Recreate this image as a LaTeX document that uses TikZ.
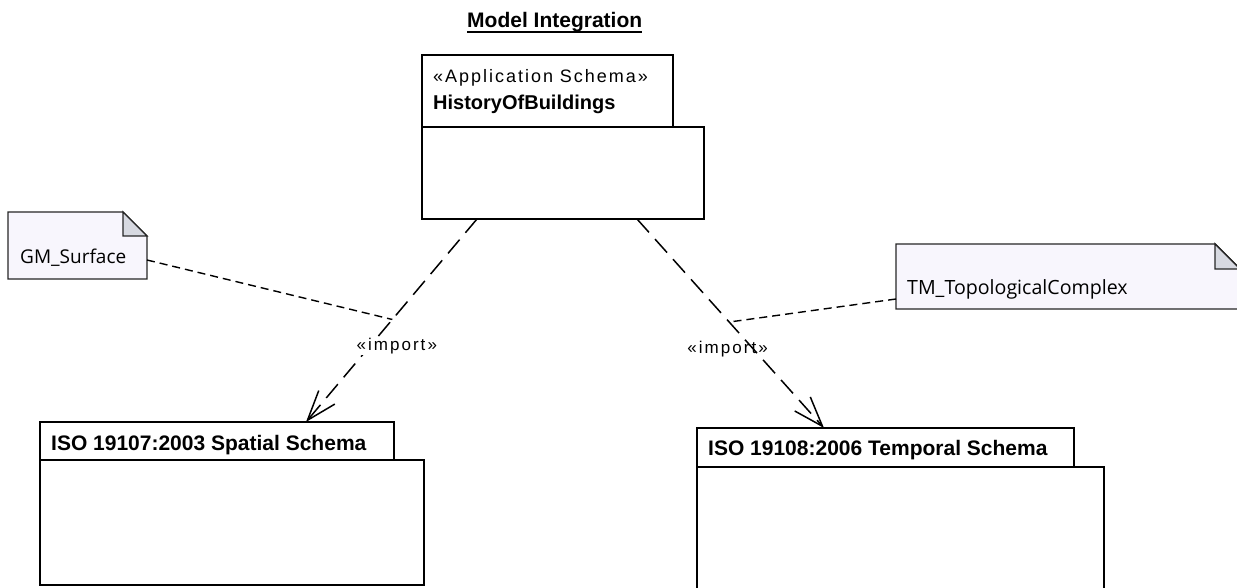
\documentclass[tikz,border=0pt]{standalone}
\usepackage{fontspec}
\setmainfont{Liberation Sans}
\newfontfamily\notefont{Open Sans}
\newfontfamily\stereofont[LetterSpace=12]{Liberation Sans}
\newfontfamily\stereofontwide[LetterSpace=11]{Liberation Sans}
\usetikzlibrary{arrows.meta,calc}
\definecolor{notefill}{HTML}{F8F6FD}
\definecolor{foldfill}{HTML}{D7D9E1}
\begin{document}
\begin{tikzpicture}[x=1pt,y=-1pt,
  pkgbox/.style={draw=black, line width=1.7pt, fill=white, inner sep=0pt, outer sep=0pt, anchor=north west},
  pkgname/.style={font=\bfseries\fontsize{21}{24}\selectfont, inner sep=0pt, anchor=base west},
  stereo/.style={font=\stereofontwide\fontsize{18}{20}\selectfont, inner sep=0pt, anchor=base west},
  notenode/.style={draw=none, inner sep=0pt, outer sep=0pt, anchor=north west},
  noteshape/.style={draw=black!85, line width=1.4pt, fill=notefill},
  foldshape/.style={draw=black!85, line width=1.4pt, fill=foldfill},
  notetext/.style={font=\notefont\fontsize{19}{22}\selectfont, inner sep=0pt, anchor=base west},
  importline/.style={draw=black, line width=1.5pt, dash pattern=on 18pt off 9pt,
     -{Straight Barb[length=30pt,width=21pt]}},
  noteline/.style={draw=black, line width=1.4pt, dash pattern=on 8pt off 5pt},
  lbl/.style={font=\stereofont\fontsize{17}{20}\selectfont, inner sep=0pt, anchor=base west}
]
\useasboundingbox (0,0) rectangle (1237,588);

% title
\node[font=\bfseries\fontsize{21}{24}\selectfont, inner sep=0pt, anchor=base west] (title) at (467,28) {Model Integration};
\draw[line width=1.5pt] ($(title.base west)+(0,4)$) -- ($(title.base east)+(0,4)$);

% HistoryOfBuildings package
\node[pkgbox, minimum width=251, minimum height=72] (hobTab) at (422,55) {};
\node[pkgbox, minimum width=282, minimum height=92] (hobBody) at (422,127) {};
\node[stereo] (hobSt) at (433,83) {«Application Schema»};
\node[pkgname, font=\bfseries\fontsize{20}{24}\selectfont] (hobName) at (433,110) {HistoryOfBuildings};

% Spatial schema package
\node[pkgbox, minimum width=354, minimum height=38] (spTab) at (40,422) {};
\node[pkgbox, minimum width=384, minimum height=125] (spBody) at (40,460) {};
\node[pkgname] (spName) at (51,450) {ISO 19107:2003 Spatial Schema};

% Temporal schema package
\node[pkgbox, minimum width=377, minimum height=39] (tmTab) at (697,428) {};
\node[pkgbox, minimum width=407, minimum height=135] (tmBody) at (697,467) {};
\node[pkgname] (tmName) at (708,455) {ISO 19108:2006 Temporal Schema};

% GM_Surface note
\node[notenode, minimum width=139, minimum height=67] (gm) at (8,212) {};
\draw[noteshape] (gm.north west) -- ($(gm.north east)+(-24,0)$) -- ($(gm.north east)+(0,24)$)
  -- (gm.south east) -- (gm.south west) -- cycle;
\draw[foldshape] ($(gm.north east)+(-24,0)$) -- ($(gm.north east)+(-24,24)$) -- ($(gm.north east)+(0,24)$) -- cycle;
\node[notetext] (gmText) at (20,263) {GM\_Surface};

% TM_TopologicalComplex note
\node[notenode, minimum width=344, minimum height=65] (tmc) at (896,244) {};
\draw[noteshape] (tmc.north west) -- ($(tmc.north east)+(-25,0)$) -- ($(tmc.north east)+(0,25)$)
  -- (tmc.south east) -- (tmc.south west) -- cycle;
\draw[foldshape] ($(tmc.north east)+(-25,0)$) -- ($(tmc.north east)+(-25,25)$) -- ($(tmc.north east)+(0,25)$) -- cycle;
\node[notetext, font=\notefont\fontsize{19.6}{22}\selectfont] (tmcText) at (907,294) {TM\_TopologicalComplex};

% import dependencies
\path (hobBody.south west) ++(55,0) coordinate (i1s);
\path (spTab.north west) ++(266,0) coordinate (i1e);
\path (hobBody.south west) ++(215,0) coordinate (i2s);
\path (tmTab.north west) ++(127,0) coordinate (i2e);

\draw[importline] (i1s) -- (i1e) coordinate[pos=0.495] (i1m);
\draw[importline] (i2s) -- (i2e) coordinate[pos=0.493] (i2m);

\node[lbl, fill=white, inner sep=1pt] (lbl1) at ($(i1m)+(-37,31)$) {«import»};
\node[lbl] (lbl2) at ($(i2m)+(-42,31)$) {«import»};

% note attachments
\draw[noteline] ($(gm.north east)+(0,48)$) -- (i1m);
\draw[noteline] ($(tmc.north west)+(0,55)$) -- (i2m);
\end{tikzpicture}
\end{document}
